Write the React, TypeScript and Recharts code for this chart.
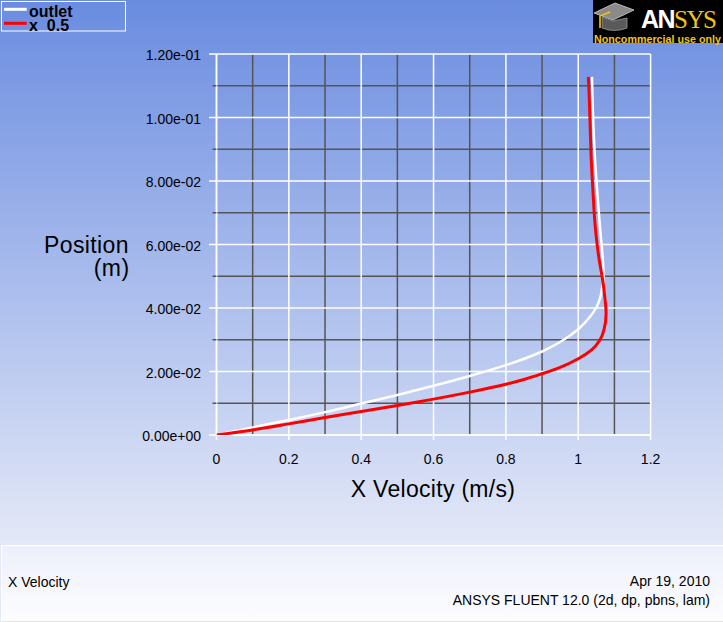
import React from 'react';
import { ScatterChart, Scatter, XAxis, YAxis, CartesianGrid } from 'recharts';

// ---- data ----
const outletVelocity = [0, 0.1, 0.2, 0.3, 0.4, 0.5, 0.6, 0.7, 0.8, 0.9, 0.95, 1.0, 1.033, 1.051, 1.06, 1.065, 1.07, 1.068, 1.06, 1.053, 1.0465, 1.042, 1.038];
const outletPosition = [0, 0.0024, 0.0047, 0.0072, 0.0099, 0.0126, 0.0155, 0.0186, 0.022, 0.0263, 0.0293, 0.0333, 0.0373, 0.0404, 0.043, 0.0457, 0.0499, 0.0551, 0.0656, 0.0761, 0.0866, 0.0971, 0.1128];

const x05Velocity = [0, 0.1, 0.2, 0.3, 0.4, 0.5, 0.6, 0.7, 0.8, 0.85, 0.9, 0.95, 1.0, 1.037, 1.06, 1.071, 1.077, 1.073, 1.066, 1.058, 1.047, 1.041, 1.036, 1.033, 1.03, 1.028];
const x05Position = [0, 0.0016, 0.0035, 0.0055, 0.0074, 0.0093, 0.0113, 0.0135, 0.016, 0.0175, 0.0193, 0.0213, 0.024, 0.0268, 0.0299, 0.0331, 0.0383, 0.0438, 0.0499, 0.0551, 0.0656, 0.0761, 0.0866, 0.0971, 0.1076, 0.1128];

const xTicks = [0, 0.1, 0.2, 0.3, 0.4, 0.5, 0.6, 0.7, 0.8, 0.9, 1.0, 1.1, 1.2];
const xTickLabels = ['0', '', '0.2', '', '0.4', '', '0.6', '', '0.8', '', '1', '', '1.2'];
const yTicks = [0, 0.01, 0.02, 0.03, 0.04, 0.05, 0.06, 0.07, 0.08, 0.09, 0.1, 0.11, 0.12];
const yTickLabels = ['0.00e+00', '', '2.00e-02', '', '4.00e-02', '', '6.00e-02', '', '8.00e-02', '', '1.00e-01', '', '1.20e-01'];

const seriesNames = ['outlet', 'x  0.5'];

const outletData = outletVelocity.map((v, i) => ({ v, p: outletPosition[i] }));
const x05Data = x05Velocity.map((v, i) => ({ v, p: x05Position[i] }));

const FONT = '"Liberation Sans", Arial, sans-serif';
const DARK = '#555555';
const WHITE = '#ffffff';

const YTick = (props: any) => {
  const { x, y, index } = props;
  const label = yTickLabels[index];
  if (!label) {
    return <line x1={x - 4} x2={x} y1={y} y2={y} stroke={DARK} strokeWidth={1.5} />;
  }
  return (
    <g>
      <line x1={x - 7.5} x2={x} y1={y} y2={y} stroke={WHITE} strokeWidth={1.5} />
      <text x={x - 15.5} y={y + 6} textAnchor="end" fontSize={14} fill="#000" fontFamily={FONT}>{label}</text>
    </g>
  );
};

const XTick = (props: any) => {
  const { x, y, index } = props;
  const label = xTickLabels[index];
  if (!label) return <g />;
  return (
    <g>
      <line x1={x} x2={x} y1={y} y2={y + 5} stroke={WHITE} strokeWidth={1.5} />
      <text x={x} y={y + 29} textAnchor="middle" fontSize={14} fill="#000" fontFamily={FONT}>{label}</text>
    </g>
  );
};

const gridLine = (major: boolean) => (p: any) => {
  const isMajor = p.index % 2 === 0;
  if (isMajor !== major) return <g key={p.key} />;
  return (
    <line key={p.key} x1={p.x1} y1={p.y1} x2={p.x2} y2={p.y2}
      stroke={major ? WHITE : DARK} strokeWidth={1.5} />
  );
};

export default function App() {
  return (
    <div style={{ position: 'absolute', left: 0, top: 0, width: 723, height: 622, overflow: 'hidden',
      background: 'linear-gradient(180deg, #6a8ce0 0px, #e4e9f8 545px, #e4e9f8 622px)', fontFamily: FONT }}>
      {/* footer panel */}
      <div style={{ position: 'absolute', left: 1, top: 545, width: 722, height: 75,
        borderTop: '1px solid #ffffff', borderLeft: '1px solid #ffffff', borderBottom: '1px solid #e4e4dc',
        background: 'linear-gradient(180deg, #edf0fb 0%, #fdfdff 100%)' }} />
      <div style={{ position: 'absolute', left: 0, top: 0 }}>
        <ScatterChart width={723} height={622} margin={{ top: 54, right: 72.4, bottom: 157, left: 0.5 }}>
          <CartesianGrid syncWithTicks horizontal={gridLine(false)} vertical={gridLine(false)} />
          <CartesianGrid syncWithTicks horizontal={gridLine(true)} vertical={gridLine(true)} />
          <XAxis type="number" dataKey="v" domain={[0, 1.2]} ticks={xTicks} interval={0}
            height={30} tickSize={0} tickMargin={0} tickLine={false}
            axisLine={{ stroke: WHITE, strokeWidth: 1.5 }} tick={<XTick />} allowDataOverflow />
          <YAxis type="number" dataKey="p" domain={[0, 0.12]} ticks={yTicks} interval={0}
            width={216} tickSize={0} tickMargin={0} tickLine={false}
            axisLine={{ stroke: WHITE, strokeWidth: 1.5 }} tick={<YTick />} allowDataOverflow />
          <Scatter name={seriesNames[0]} data={outletData} isAnimationActive={false}
            line={{ stroke: '#ffffff', strokeWidth: 2.5 }} lineJointType="monotoneY"
            shape={() => <g />} legendType="none" />
          <Scatter name={seriesNames[1]} data={x05Data} isAnimationActive={false}
            line={{ stroke: '#ff0000', strokeWidth: 3 }} lineJointType="monotoneY"
            shape={() => <g />} legendType="none" />
        </ScatterChart>
      </div>
      {/* overlay texts */}
      <svg width={723} height={622} style={{ position: 'absolute', left: 0, top: 0, pointerEvents: 'none' }}>
        {/* legend */}
        <rect x={1.5} y={1.5} width={124} height={29.5} fill="none" stroke="#ffffff" strokeWidth={1} />
        <line x1={4} x2={26.7} y1={9.3} y2={9.3} stroke="#ffffff" strokeWidth={3} />
        <line x1={4} x2={26.7} y1={23.3} y2={23.3} stroke="#ff0000" strokeWidth={3} />
        <text fontSize={16} fontWeight="bold" fill="#000" fontFamily={FONT} style={{ whiteSpace: 'pre' }}>
          <tspan x={29} y={16.5}>{seriesNames[0]}</tspan>
          <tspan x={29} y={30.5}>{seriesNames[1]}</tspan>
        </text>

        {/* axis titles */}
        <text textAnchor="end" fontSize={23} fill="#000" fontFamily={FONT} letterSpacing={0.4}>
          <tspan x={129} y={253}>Position</tspan>
          <tspan x={129.5} y={275.5}>(m)</tspan>
        </text>
        <text x={433} y={497} textAnchor="middle" fontSize={23} fill="#000" fontFamily={FONT} letterSpacing={0.3}>X Velocity (m/s)</text>

        {/* footer texts */}
        <text x={8} y={587} fontSize={14} fill="#000" fontFamily={FONT}>X Velocity</text>
        <text x={710} y={586} textAnchor="end" fontSize={14} fill="#000" fontFamily={FONT}>Apr 19, 2010</text>
        <text x={710} y={605} textAnchor="end" fontSize={14} fill="#000" fontFamily={FONT}>ANSYS FLUENT 12.0 (2d, dp, pbns, lam)</text>

        {/* logo */}
        <rect x={593} y={0} width={130} height={43} fill="#000" />
        <polygon points="594,13 615,3 634,10 613,20" fill="#8a8a8a" stroke="#cfcfcf" strokeWidth={0.8} />
        <path d="M602,17 L602,28 Q614,33 627,28 L627,18 L613,21 Z" fill="#5a5a5a" stroke="#9a9a9a" strokeWidth={0.8} />
        <polyline points="610,12 600,16 600,28" fill="none" stroke="#f2c31a" strokeWidth={1.6} />
        <text x={641} y={28} fontSize={25} fontWeight="bold" fill="#ffffff" fontFamily={FONT} letterSpacing={-1.5}>
          AN<tspan fill="#f2c31a" fontWeight="normal" fontFamily={'"Liberation Serif", "Times New Roman", serif'}>SYS</tspan>
        </text>
        <text x={594} y={42.5} fontSize={10} fontWeight="bold" fill="#f2c31a" fontFamily={FONT} textLength={127} lengthAdjust="spacingAndGlyphs">Noncommercial use only</text>
      </svg>
    </div>
  );
}
